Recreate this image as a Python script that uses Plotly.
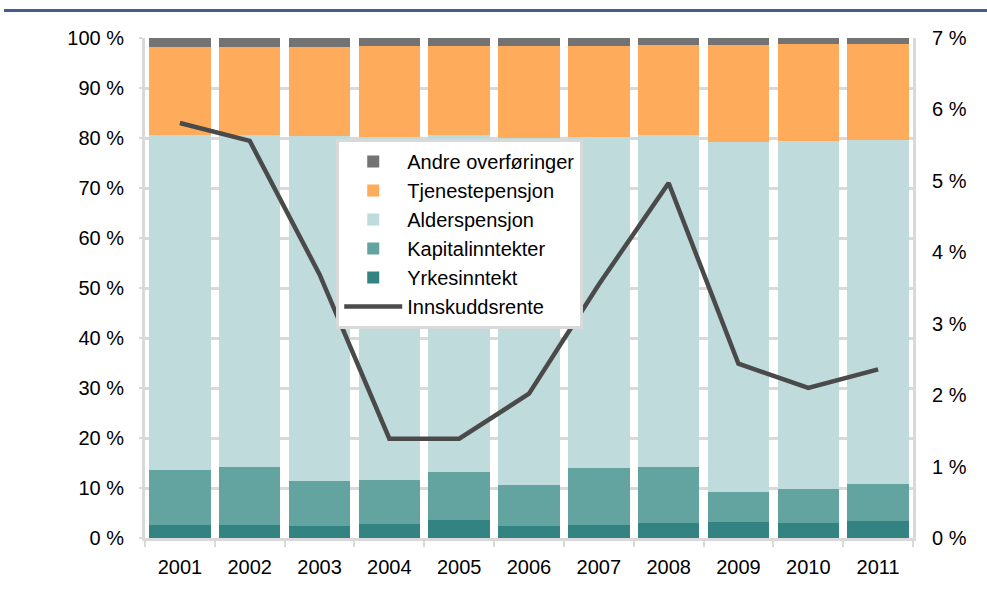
import plotly.graph_objects as go

years = ["2001", "2002", "2003", "2004", "2005", "2006", "2007", "2008", "2009", "2010", "2011"]
yrkesinntekt = [2.6, 2.7, 2.5, 2.9, 3.7, 2.5, 2.7, 3.1, 3.2, 3.1, 3.5]
kapitalinntekter = [11.1, 11.6, 9.0, 8.7, 9.6, 8.2, 11.4, 11.2, 6.0, 6.7, 7.4]
alderspensjon = [66.9, 66.3, 68.9, 68.7, 67.3, 69.4, 66.2, 66.3, 70.1, 69.7, 68.7]
tjenestepensjon = [17.7, 17.7, 17.9, 18.1, 17.8, 18.3, 18.1, 18.1, 19.4, 19.3, 19.3]
andre_overforinger = [1.7, 1.7, 1.7, 1.6, 1.6, 1.6, 1.6, 1.3, 1.3, 1.2, 1.1]
innskuddsrente = [5.81, 5.56, 3.69, 1.39, 1.39, 2.02, 3.55, 4.97, 2.44, 2.10, 2.36]

FONT = "Liberation Sans, Arial, sans-serif"
GRID = "#d9d9d9"

fig = go.Figure()

bar_series = [
    ("Yrkesinntekt", yrkesinntekt, "#328382", 5),
    ("Kapitalinntekter", kapitalinntekter, "#63a3a0", 4),
    ("Alderspensjon", alderspensjon, "#c0dbdb", 3),
    ("Tjenestepensjon", tjenestepensjon, "#ffab5c", 2),
    ("Andre overføringer", andre_overforinger, "#737373", 1),
]
for name, vals, col, rank in bar_series:
    fig.add_trace(go.Bar(
        x=years, y=vals, name=name, marker=dict(color=col, line=dict(width=0)),
        legendrank=rank, yaxis="y",
    ))

fig.add_trace(go.Scatter(
    x=years, y=innskuddsrente, name="Innskuddsrente", mode="lines",
    line=dict(color="#4a4a4a", width=4.5), yaxis="y2", legendrank=6,
))

fig.update_layout(
    width=987, height=596,
    margin=dict(l=145, r=74, t=38, b=58),
    paper_bgcolor="white", plot_bgcolor="white",
    barmode="stack", bargap=0.12,
    font=dict(family=FONT, size=20, color="black"),
    showlegend=True,
    legend=dict(
        x=0.249, y=0.798, xanchor="left", yanchor="top",
        bgcolor="white", bordercolor=GRID, borderwidth=3,
        font=dict(family=FONT, size=20, color="black"),
        traceorder="normal", tracegroupgap=0, itemwidth=58,
    ),
    xaxis=dict(
        type="category", showgrid=False, showline=True, linecolor=GRID, linewidth=3,
        ticks="outside", tickson="boundaries", ticklen=6, tickwidth=2, tickcolor=GRID,
        ticklabelstandoff=9, tickfont=dict(size=20),
    ),
    yaxis=dict(
        range=[0, 100], dtick=10, ticksuffix=" %", showgrid=True, gridcolor=GRID, gridwidth=3,
        showline=True, linecolor=GRID, linewidth=3, zeroline=False,
        ticks="outside", ticklen=3, tickcolor=GRID, tickwidth=2,
        ticklabelstandoff=11, tickfont=dict(size=20),
    ),
    yaxis2=dict(
        range=[0, 7], dtick=1, ticksuffix=" %", overlaying="y", side="right",
        showgrid=False, showline=True, linecolor=GRID, linewidth=3, zeroline=False,
        ticks="", ticklabelstandoff=12, tickfont=dict(size=20),
    ),
    shapes=[dict(
        type="line", xref="paper", yref="paper",
        x0=(4 - 145) / 768, x1=(987 - 145) / 768, y0=(538 - 10.5) / 500, y1=(538 - 10.5) / 500,
        line=dict(color="#435e8c", width=3),
    )],
)

fig.write_html(
    "out.html",
    config={"displayModeBar": False},
    post_script="document.body.style.margin='0';document.body.style.padding='0';",
)
